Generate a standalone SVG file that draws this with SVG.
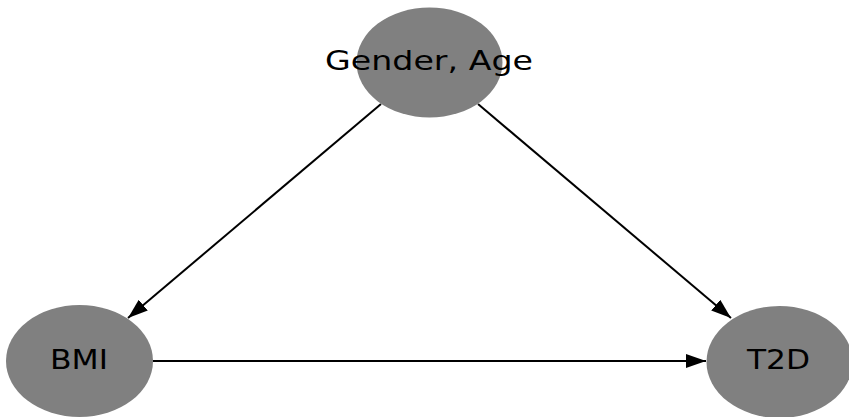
<svg xmlns="http://www.w3.org/2000/svg" width="849" height="417" viewBox="0 0 849 417">
<style>
.node{fill:#808080;}
.lbl{font-family:"DejaVu Sans",sans-serif;font-size:27px;fill:#000;text-anchor:middle;}
.edge{stroke:#000;stroke-width:2;fill:none;}
</style>
<defs>
<marker id="arr" viewBox="0 0 20 14" refX="20" refY="7" markerWidth="20" markerHeight="14" markerUnits="userSpaceOnUse" orient="auto">
<path d="M0,0 L20,7 L0,14 z" fill="#000"/>
</marker>
</defs>
<g id="connectors">
<line class="edge" x1="381" y1="104" x2="128" y2="318" marker-end="url(#arr)"/>
<line class="edge" x1="478" y1="104" x2="731" y2="318" marker-end="url(#arr)"/>
<line class="edge" x1="153" y1="361" x2="706" y2="361" marker-end="url(#arr)"/>
</g>
<g id="gender_age">
<ellipse class="node" cx="429.5" cy="62.5" rx="73" ry="55"/>
<text class="lbl" x="429" y="70" textLength="208" lengthAdjust="spacingAndGlyphs">Gender, Age</text>
</g>
<g id="bmi">
<ellipse class="node" cx="79.5" cy="361" rx="73.5" ry="56"/>
<text class="lbl" x="79" y="369" textLength="58" lengthAdjust="spacingAndGlyphs">BMI</text>
</g>
<g id="t2d">
<ellipse class="node" cx="779.5" cy="362" rx="73" ry="56"/>
<text class="lbl" x="778.5" y="369" textLength="63" lengthAdjust="spacingAndGlyphs">T2D</text>
</g>
</svg>
